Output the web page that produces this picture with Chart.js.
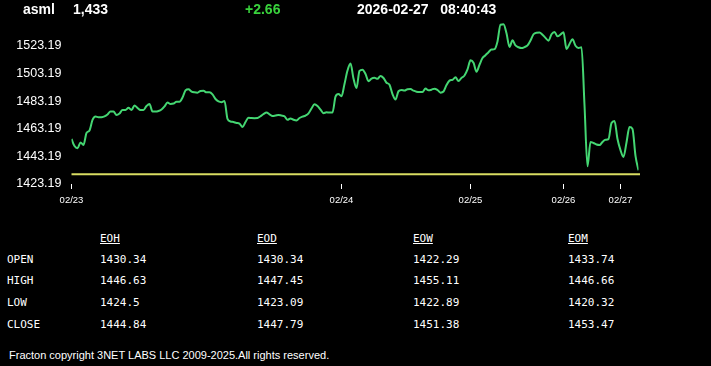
<!DOCTYPE html>
<html>
<head>
<meta charset="utf-8">
<script src="https://cdn.jsdelivr.net/npm/chart.js@4.4.1/dist/chart.umd.min.js"></script>
<style>
  body { margin:0; background:#000; width:711px; height:366px; overflow:hidden; position:relative; }
  .hd { position:absolute; top:0; font:bold 14px "Liberation Sans", Arial, sans-serif; color:#fff; line-height:18px; white-space:nowrap; }
  #chartBox { position:absolute; left:0; top:0; width:711px; height:215px; }
  .cell { position:absolute; font:11px "DejaVu Sans Mono", monospace; color:#fff; line-height:14px; white-space:nowrap; }
  .cell.head { text-decoration:underline; }
  #footer { position:absolute; left:9px; top:349px; font:11px "Liberation Sans", Arial, sans-serif; color:#fff; white-space:nowrap; }
</style>
</head>
<body>
<div id="chartBox"><canvas id="priceChart" width="711" height="215"></canvas></div>
<span class="hd" style="left:23px">asml</span>
<span class="hd" style="left:73px" id="lastPrice"></span>
<span class="hd" style="left:245px;color:#39d23c" id="change"></span>
<span class="hd" style="left:357px" id="stamp"></span>
<div id="table"></div>
<div id="footer">Fracton copyright 3NET LABS LLC 2009-2025.All rights reserved.</div>
<script>
  // header
  const lastPrice = '1,433';
  const change = '+2.66';
  const quoteDate = '2026-02-27';
  const quoteTime = '08:40:43';
  const prevClose = 1430.34;

  // intraday prices, one per step
  const prices = [
    1455.8,1450.7,1449.1,1453.3,1451.5,1460.2,1462.0,1469.6,1472.1,1471.5,
    1471.6,1472.2,1473.6,1475.7,1475.7,1473.2,1474.3,1476.8,1476.8,1478.4,
    1476.8,1480.1,1478.3,1476.8,1476.8,1479.7,1481.2,1475.7,1475.7,1476.1,
    1477.2,1479.4,1482.3,1481.2,1481.5,1482.8,1482.8,1485.9,1491.0,1491.8,
    1490.2,1489.6,1489.4,1490.6,1490.7,1489.6,1489.6,1488.1,1484.8,1483.0,
    1482.5,1483.3,1470.3,1468.5,1468.1,1467.4,1467.0,1464.5,1468.1,1471.2,
    1471.0,1470.9,1471.0,1472.3,1473.9,1475.0,1473.7,1472.5,1472.8,1473.2,
    1472.8,1472.3,1469.7,1470.7,1469.7,1469.2,1471.0,1472.0,1472.8,1474.4,
    1477.9,1481.0,1479.7,1477.1,1474.5,1475.1,1475.0,1475.0,1486.5,1488.4,
    1486.8,1495.7,1505.4,1510.5,1499.6,1492.7,1505.1,1506.0,1502.9,1497.7,
    1499.6,1500.1,1499.4,1501.5,1500.0,1496.6,1495.1,1488.3,1484.4,1490.4,
    1491.3,1490.9,1491.9,1492.0,1490.8,1490.1,1489.9,1489.9,1492.4,1491.1,
    1491.5,1492.3,1491.3,1489.4,1490.2,1494.9,1498.1,1498.7,1500.5,1497.8,
    1500.1,1501.8,1506.2,1512.8,1511.0,1504.5,1509.6,1514.5,1516.5,1518.7,
    1520.6,1520.9,1526.5,1538.6,1538.9,1532.4,1522.5,1527.3,1523.6,1522.3,
    1521.7,1522.4,1523.6,1527.2,1531.7,1532.8,1532.9,1531.3,1529.1,1527.0,
    1531.7,1533.4,1530.2,1531.5,1533.2,1521.0,1524.7,1528.0,1523.4,1521.8,
    1522.2,1480.4,1436.0,1453.7,1452.9,1451.8,1451.4,1453.7,1455.2,1455.7,
    1467.4,1468.9,1455.8,1447.7,1442.8,1453.3,1464.5,1463.1,1443.5,1433.1
  ];
  const dayStarts = [0, 90, 133, 164, 183];
  const dayLabels = ['02/23', '02/24', '02/25', '02/26', '02/27'];
  const yTicks = [1423.19, 1443.19, 1463.19, 1483.19, 1503.19, 1523.19];
  const yMax = 1543.19;

  // summary table
  const periods = ['EOH', 'EOD', 'EOW', 'EOM'];
  const rowNames = ['OPEN', 'HIGH', 'LOW', 'CLOSE'];
  const eoh = [1430.34, 1446.63, 1424.5, 1444.84];
  const eod = [1430.34, 1447.45, 1423.09, 1447.79];
  const eow = [1422.29, 1455.11, 1422.89, 1451.38];
  const eom = [1433.74, 1446.66, 1420.32, 1453.47];

  document.getElementById('lastPrice').textContent = lastPrice;
  document.getElementById('change').textContent = change;
  document.getElementById('stamp').innerHTML = quoteDate + '&nbsp;&nbsp;&nbsp;' + quoteTime;

  const colX = [100, 257, 413, 568];
  const rowY = [253, 274, 296, 318];
  const table = document.getElementById('table');
  function addCell(text, x, y, cls) {
    const d = document.createElement('div');
    d.className = 'cell' + (cls ? ' ' + cls : '');
    d.style.left = x + 'px';
    d.style.top = y + 'px';
    d.textContent = text;
    table.appendChild(d);
  }
  periods.forEach((p, i) => addCell(p, colX[i], 232, 'head'));
  [eoh, eod, eow, eom].forEach((col, i) => {
    col.forEach((v, r) => addCell(String(v), colX[i], rowY[r]));
  });
  rowNames.forEach((n, r) => addCell(n, 7, rowY[r]));

  // previous close reference line
  const prevCloseLine = {
    id: 'prevCloseLine',
    beforeDatasetsDraw(chart) {
      const {ctx, chartArea, scales} = chart;
      const y = scales.y.getPixelForValue(prevClose);
      ctx.save();
      ctx.strokeStyle = '#d8dc62';
      ctx.lineWidth = 2;
      ctx.beginPath();
      ctx.moveTo(chartArea.left, y);
      ctx.lineTo(chartArea.right + 1.5, y);
      ctx.stroke();
      ctx.restore();
    }
  };

  new Chart(document.getElementById('priceChart'), {
    type: 'line',
    data: {
      datasets: [{
        data: prices.map((p, i) => ({x: i, y: p})),
        borderColor: '#44d672',
        borderWidth: 2,
        pointRadius: 0,
        cubicInterpolationMode: 'monotone',
        fill: false
      }]
    },
    options: {
      responsive: false,
      animation: false,
      layout: { padding: { left: 0, right: 72.5, top: 18.4, bottom: 0 } },
      plugins: { legend: { display: false }, tooltip: { enabled: false } },
      scales: {
        x: {
          type: 'linear',
          min: 0,
          max: prices.length - 1,
          afterBuildTicks: scale => { scale.ticks = dayStarts.map(v => ({value: v})); },
          afterFit: scale => { scale.height = 31; },
          border: { display: false },
          grid: { drawOnChartArea: false, color: '#fff', tickColor: '#fff', tickLength: 5, tickWidth: 1 },
          ticks: {
            autoSkip: false,
            maxRotation: 0,
            padding: 6,
            color: '#fff',
            font: { family: 'Liberation Sans, Arial', size: 9.5 },
            callback: v => dayLabels[dayStarts.indexOf(v)]
          }
        },
        y: {
          min: yTicks[0],
          max: yMax,
          afterBuildTicks: scale => { scale.ticks = yTicks.map(v => ({value: v})); },
          afterFit: scale => { scale.width = 71.5; },
          border: { display: false },
          grid: { display: false },
          ticks: {
            padding: 2,
            color: '#fff',
            font: { family: 'Liberation Sans, Arial', size: 12.5 },
            callback: v => v.toFixed(2)
          }
        }
      }
    },
    plugins: [prevCloseLine]
  });
</script>
</body>
</html>
